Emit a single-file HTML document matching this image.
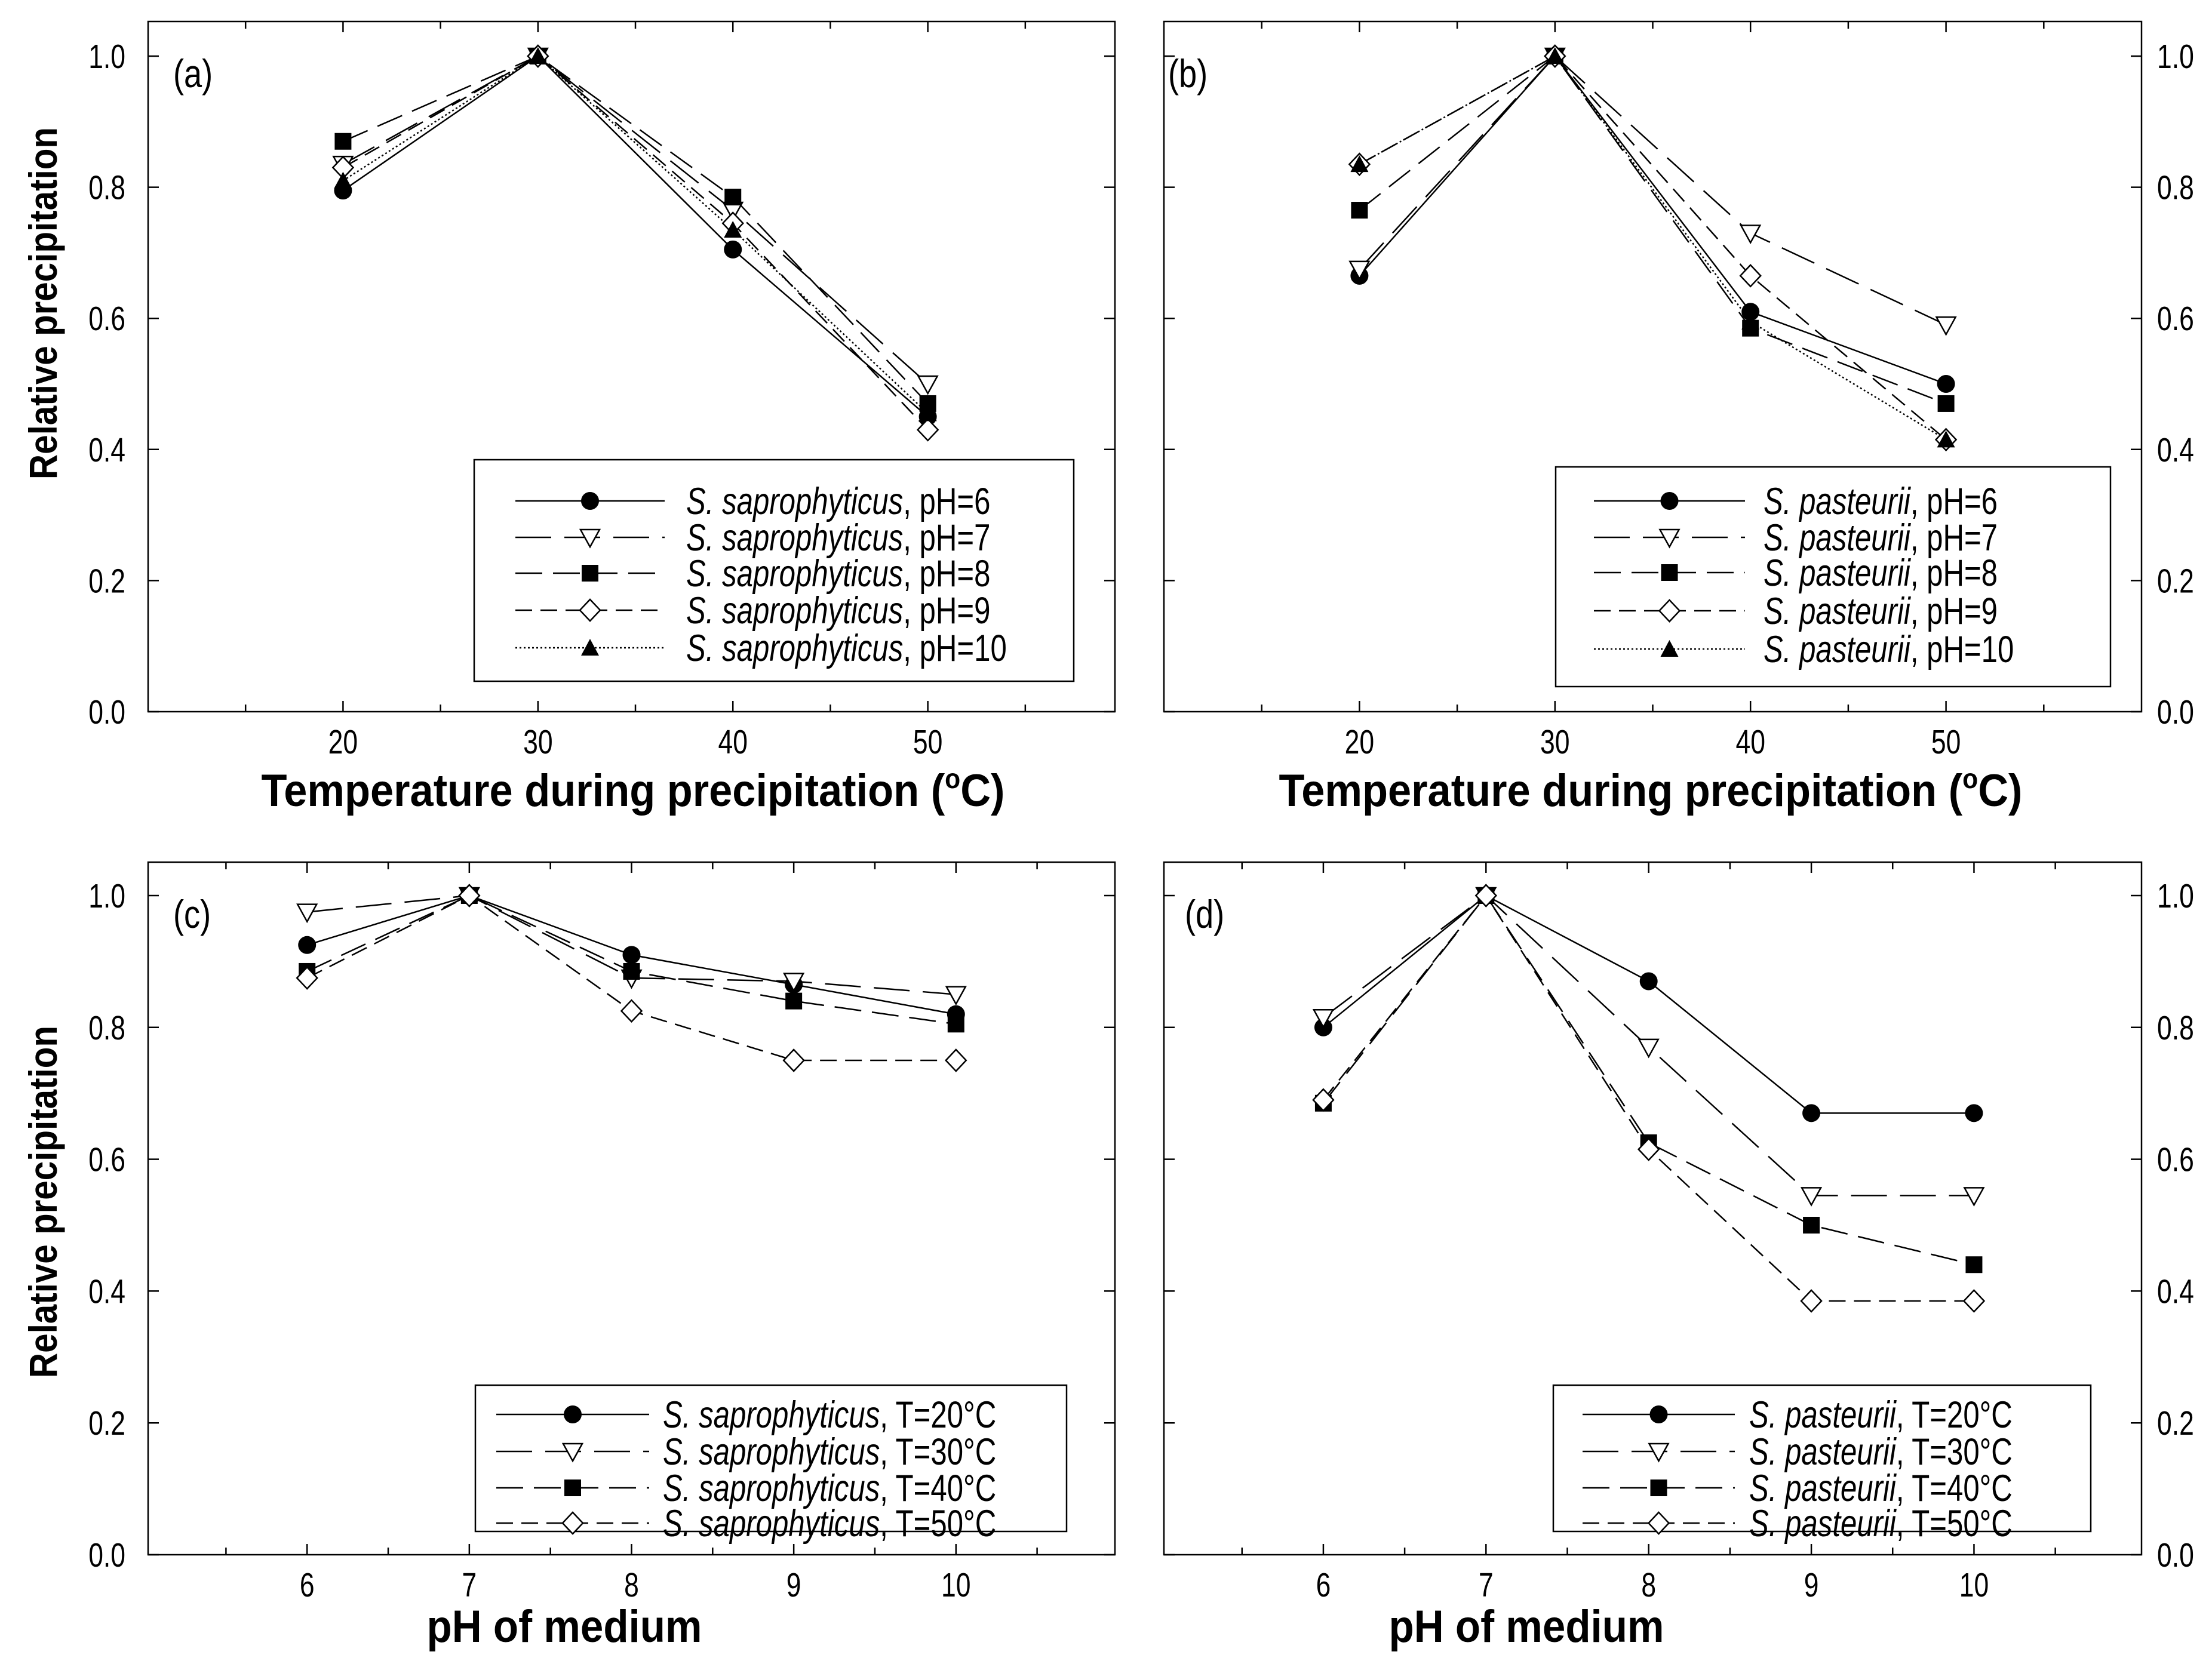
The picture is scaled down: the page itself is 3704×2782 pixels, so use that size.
<!DOCTYPE html>
<html><head><meta charset="utf-8">
<style>
html,body{margin:0;padding:0;background:#fff}
svg{display:block}
text{font-family:"Liberation Sans",sans-serif;fill:#000}
</style></head>
<body>
<svg id="fig" width="3704" height="2782" viewBox="0 0 3704 2782" xmlns="http://www.w3.org/2000/svg"></svg>
<script>
// ---- data ----
const tempCats = [20, 30, 40, 50];
const phCats = [6, 7, 8, 9, 10];
const yTicks = [0.0, 0.2, 0.4, 0.6, 0.8, 1.0];
const yTickLabels = ["0.0","0.2","0.4","0.6","0.8","1.0"];
const tempMinor = [15, 25, 35, 45, 55];
const phMinor = [5.5, 6.5, 7.5, 8.5, 9.5, 10.5];
// panel a: S. saprophyticus vs temperature
const aPH6 = [0.795, 1.0, 0.705, 0.45];
const aPH7 = [0.835, 1.0, 0.765, 0.50];
const aPH8 = [0.87, 1.0, 0.785, 0.47];
const aPH9 = [0.83, 1.0, 0.745, 0.43];
const aPH10 = [0.81, 1.0, 0.735, 0.455];
// panel b: S. pasteurii vs temperature
const bPH6 = [0.665, 1.0, 0.61, 0.50];
const bPH7 = [0.675, 1.0, 0.73, 0.59];
const bPH8 = [0.765, 1.0, 0.585, 0.47];
const bPH9 = [0.835, 1.0, 0.665, 0.415];
const bPH10 = [0.835, 1.0, 0.595, 0.415];
// panel c: S. saprophyticus vs pH
const cT20 = [0.925, 1.0, 0.91, 0.865, 0.82];
const cT30 = [0.975, 1.0, 0.875, 0.87, 0.85];
const cT40 = [0.885, 1.0, 0.885, 0.84, 0.805];
const cT50 = [0.875, 1.0, 0.825, 0.75, 0.75];
// panel d: S. pasteurii vs pH
const dT20 = [0.80, 1.0, 0.87, 0.67, 0.67];
const dT30 = [0.815, 1.0, 0.77, 0.545, 0.545];
const dT40 = [0.685, 1.0, 0.625, 0.50, 0.44];
const dT50 = [0.69, 1.0, 0.615, 0.385, 0.385];

const NS = "http://www.w3.org/2000/svg";
const svg = document.getElementById('fig');
function el(tag, attrs, parent){ const e=document.createElementNS(NS,tag); for(const k in attrs) e.setAttribute(k,attrs[k]); (parent||svg).appendChild(e); return e; }
function narrow(t, f){ const w=t.getComputedTextLength(); t.setAttribute('textLength', (w*f).toFixed(1)); t.setAttribute('lengthAdjust','spacingAndGlyphs'); }
function fixW(t, w){ t.setAttribute('textLength', w); t.setAttribute('lengthAdjust','spacingAndGlyphs'); }

const styles = [
  {dash:"none", marker:"circle"},
  {dash:"60 22", marker:"tri"},
  {dash:"45 18", marker:"square"},
  {dash:"28 14", marker:"diamond"},
  {dash:"3 4", marker:"uptri"}
];

function marker(g, type, x, y){
  let m;
  if(type==="circle") m=el('circle',{cx:x,cy:y,r:15,fill:'#000'},g);
  else if(type==="tri") m=el('polygon',{points:`${x-16},${y-13} ${x+16},${y-13} ${x},${y+16}`,fill:'#fff',stroke:'#000','stroke-width':2.5},g);
  else if(type==="square") m=el('rect',{x:x-14,y:y-14,width:28,height:28,fill:'#000'},g);
  else if(type==="diamond") m=el('polygon',{points:`${x},${y-18} ${x+17},${y} ${x},${y+18} ${x-17},${y}`,fill:'#fff',stroke:'#000','stroke-width':2.5},g);
  else m=el('polygon',{points:`${x-15},${y+13} ${x+15},${y+13} ${x},${y-15}`,fill:'#000'},g);
  
  
  return m;
}

function panel(cfg){
  const g = el('g',{});
  
  
  const {L,R,T,B,y1,xmin,xmax} = cfg;
  const sx = v => L + (v - xmin)/(xmax - xmin)*(R-L);
  const sy = v => B - v*(B-y1);
  const frame = el('rect',{x:L,y:T,width:R-L,height:B-T,fill:'none',stroke:'#000','stroke-width':2.5},g);
  
  
  yTicks.forEach((v,i)=>{
    const y=sy(v);
    el('line',{x1:L,x2:L+18,y1:y,y2:y,stroke:'#000','stroke-width':2.5},g);
    el('line',{x1:R-18,x2:R,y1:y,y2:y,stroke:'#000','stroke-width':2.5},g);
    const t = el('text',{x: cfg.rightAxis? R+26 : L-38, y:y+20, 'font-size':57, 'text-anchor': cfg.rightAxis?'start':'end'},g);
    t.textContent = yTickLabels[i];
    
    
    narrow(t,0.78);
  });
  cfg.cats.forEach(v=>{
    const x=sx(v);
    el('line',{x1:x,x2:x,y1:B,y2:B-18,stroke:'#000','stroke-width':2.5},g);
    el('line',{x1:x,x2:x,y1:T,y2:T+18,stroke:'#000','stroke-width':2.5},g);
    const t = el('text',{x:x, y:B+70, 'font-size':57, 'text-anchor':'middle'},g);
    t.textContent = String(v);
    
    
    narrow(t,0.78);
  });
  cfg.minor.forEach(v=>{
    const x=sx(v);
    if(x<=L+2||x>=R-2) return;
    el('line',{x1:x,x2:x,y1:B,y2:B-12,stroke:'#000','stroke-width':2.5},g);
    el('line',{x1:x,x2:x,y1:T,y2:T+12,stroke:'#000','stroke-width':2.5},g);
  });
  cfg.series.forEach((s,i)=>{
    const st = styles[i];
    const pts = s.map((v,j)=>sx(cfg.cats[j])+','+sy(v)).join(' ');
    const pl = el('polyline',{points:pts,fill:'none',stroke:'#000','stroke-width':2.5,'stroke-dasharray':st.dash},g);
    
    
  });
  cfg.series.forEach((s,i)=>{
    s.forEach((v,j)=>marker(g, styles[i].marker, sx(cfg.cats[j]), sy(v)));
  });
  const pl = el('text',{x:cfg.labX, y:T+110, 'font-size':66},g);
  pl.textContent = cfg.tag;
  
  
  narrow(pl,0.82);
  const lg = el('g',{},g);
  
  
  const lgb = cfg.leg;
  el('rect',{x:lgb.x,y:lgb.y,width:lgb.w,height:lgb.h,fill:'#fff',stroke:'#000','stroke-width':2.5},lg);
  cfg.labels.forEach((lab,i)=>{
    const ey = lgb.ys[i];
    const e = el('g',{},lg);
    
    
    el('line',{x1:lgb.l1,x2:lgb.l2,y1:ey,y2:ey,stroke:'#000','stroke-width':2.5,'stroke-dasharray':styles[i].dash},e);
    marker(e, styles[i].marker, (lgb.l1+lgb.l2)/2, ey);
    const t = el('text',{x:lgb.tx, y:ey+22, 'font-size':63},e);
    const it = el('tspan',{'font-style':'italic'},t); it.textContent = cfg.species;
    const rest = el('tspan',{},t); rest.textContent = ', '+lab;
    narrow(t,0.78);
  });
  const xt = el('text',{x:cfg.xtX, y:cfg.xtY, 'font-size':76, 'font-weight':'bold','text-anchor':'middle'},g);
  
  
  if(cfg.xtitle==='temp'){
    xt.appendChild(document.createTextNode('Temperature during precipitation ('));
    const o = el('tspan',{'font-size':46,dy:-30},xt); o.textContent='o';
    const c = el('tspan',{dy:30},xt); c.textContent='C)';
    fixW(xt,1245);
  } else { xt.textContent = 'pH of medium'; fixW(xt,461); }
  if(cfg.ytitle){
    const yt = el('text',{x:0,y:0,'font-size':66,'font-weight':'bold','text-anchor':'middle',
      transform:`translate(${cfg.ytX},${cfg.ytY}) rotate(-90)`},g);
    yt.textContent='Relative precipitation';
    
    
    fixW(yt,590);
  }
}

const tLab = ["pH=6","pH=7","pH=8","pH=9","pH=10"];
const TLab = ["T=20°C","T=30°C","T=40°C","T=50°C"];

panel({name:'panel-a',tag:'(a)',L:248,R:1867,T:36,B:1192,y1:94,xmin:10,xmax:59.6,cats:tempCats,minor:tempMinor,
  series:[aPH6,aPH7,aPH8,aPH9,aPH10],labels:tLab,species:'S. saprophyticus',labX:290,
  leg:{x:794,y:770,w:1004,h:371,ys:[839,900,960,1022,1085],l1:863,l2:1113,tx:1149},
  xtitle:'temp',xtX:1060,xtY:1350,ytitle:true,ytX:95,ytY:508});
panel({name:'panel-b',tag:'(b)',L:1949,R:3586,T:36,B:1192,y1:94,xmin:10,xmax:60,cats:tempCats,minor:tempMinor,rightAxis:true,
  series:[bPH6,bPH7,bPH8,bPH9,bPH10],labels:tLab,species:'S. pasteurii',labX:1956,
  leg:{x:2605,y:782,w:929,h:368,ys:[839,900,959,1023,1087],l1:2669,l2:2922,tx:2953},
  xtitle:'temp',xtX:2764,xtY:1350,ytitle:false});
panel({name:'panel-c',tag:'(c)',L:248,R:1867,T:1444,B:2604,y1:1500,xmin:5.02,xmax:10.98,cats:phCats,minor:phMinor,
  series:[cT20,cT30,cT40,cT50],labels:TLab,species:'S. saprophyticus',labX:290,
  leg:{x:796,y:2320,w:990,h:245,ys:[2369,2431,2492,2551],l1:831,l2:1087,tx:1110},
  xtitle:'ph',xtX:945,xtY:2750,ytitle:true,ytX:95,ytY:2013});
panel({name:'panel-d',tag:'(d)',L:1949,R:3586,T:1444,B:2604,y1:1500,xmin:5.02,xmax:11.03,cats:phCats,minor:phMinor,rightAxis:true,
  series:[dT20,dT30,dT40,dT50],labels:TLab,species:'S. pasteurii',labX:1984,
  leg:{x:2601,y:2320,w:900,h:245,ys:[2369,2431,2492,2551],l1:2650,l2:2905,tx:2929},
  xtitle:'ph',xtX:2556,xtY:2750,ytitle:false});
</script>
</body></html>
